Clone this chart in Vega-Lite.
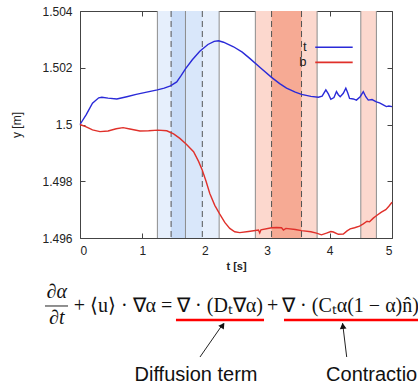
{
  "$schema": "https://vega.github.io/schema/vega-lite/v6.json",
  "width": 312,
  "height": 227,
  "autosize": {"type": "none"},
  "padding": {"left": 80, "top": 11, "right": 26, "bottom": 147},
  "background": "white",
  "config": {
    "view": {"stroke": "#444", "strokeWidth": 1},
    "font": "Liberation Sans",
    "axis": {
      "grid": false,
      "domain": false,
      "tickSize": -5,
      "tickColor": "#444",
      "labelFont": "Liberation Sans",
      "labelFontSize": 12,
      "labelColor": "#222",
      "titleFont": "Liberation Sans",
      "titleFontSize": 11,
      "titleColor": "#222"
    }
  },
  "datasets": {
    "bands": [
      {"band": "diffusion outer", "start": 1.24, "end": 2.23},
      {"band": "diffusion mid", "start": 1.46, "end": 1.96},
      {"band": "diffusion core", "start": 1.46, "end": 1.69},
      {"band": "contraction outer", "start": 2.81, "end": 3.80},
      {"band": "contraction core", "start": 3.07, "end": 3.55},
      {"band": "contraction late", "start": 4.50, "end": 4.75}
    ],
    "edges": [{"t": 1.24}, {"t": 1.69}, {"t": 2.23}, {"t": 2.81}, {"t": 3.80}, {"t": 4.50}, {"t": 4.75}],
    "phases": [{"t": 1.46}, {"t": 1.96}, {"t": 3.07}, {"t": 3.55}],
    "curves": [
      {"series": "t", "t": 0.00, "y": 1.50000},
      {"series": "t", "t": 0.10, "y": 1.50035},
      {"series": "t", "t": 0.20, "y": 1.50075},
      {"series": "t", "t": 0.30, "y": 1.50094},
      {"series": "t", "t": 0.35, "y": 1.50096},
      {"series": "t", "t": 0.45, "y": 1.50093},
      {"series": "t", "t": 0.59, "y": 1.50090},
      {"series": "t", "t": 0.75, "y": 1.50098},
      {"series": "t", "t": 0.90, "y": 1.50106},
      {"series": "t", "t": 1.05, "y": 1.50113},
      {"series": "t", "t": 1.24, "y": 1.50122},
      {"series": "t", "t": 1.35, "y": 1.50128},
      {"series": "t", "t": 1.45, "y": 1.50136},
      {"series": "t", "t": 1.55, "y": 1.50150},
      {"series": "t", "t": 1.62, "y": 1.50172},
      {"series": "t", "t": 1.69, "y": 1.50196},
      {"series": "t", "t": 1.80, "y": 1.50228},
      {"series": "t", "t": 1.92, "y": 1.50258},
      {"series": "t", "t": 2.05, "y": 1.50282},
      {"series": "t", "t": 2.15, "y": 1.50293},
      {"series": "t", "t": 2.22, "y": 1.50295},
      {"series": "t", "t": 2.30, "y": 1.50290},
      {"series": "t", "t": 2.46, "y": 1.50274},
      {"series": "t", "t": 2.60, "y": 1.50255},
      {"series": "t", "t": 2.72, "y": 1.50233},
      {"series": "t", "t": 2.90, "y": 1.50198},
      {"series": "t", "t": 3.07, "y": 1.50166},
      {"series": "t", "t": 3.20, "y": 1.50144},
      {"series": "t", "t": 3.31, "y": 1.50128},
      {"series": "t", "t": 3.45, "y": 1.50114},
      {"series": "t", "t": 3.55, "y": 1.50106},
      {"series": "t", "t": 3.70, "y": 1.50099},
      {"series": "t", "t": 3.82, "y": 1.50096},
      {"series": "t", "t": 3.88, "y": 1.50100},
      {"series": "t", "t": 3.94, "y": 1.50122},
      {"series": "t", "t": 3.98, "y": 1.50108},
      {"series": "t", "t": 4.02, "y": 1.50089},
      {"series": "t", "t": 4.07, "y": 1.50095},
      {"series": "t", "t": 4.11, "y": 1.50116},
      {"series": "t", "t": 4.14, "y": 1.50105},
      {"series": "t", "t": 4.17, "y": 1.50098},
      {"series": "t", "t": 4.22, "y": 1.50110},
      {"series": "t", "t": 4.26, "y": 1.50128},
      {"series": "t", "t": 4.29, "y": 1.50112},
      {"series": "t", "t": 4.32, "y": 1.50092},
      {"series": "t", "t": 4.38, "y": 1.50090},
      {"series": "t", "t": 4.43, "y": 1.50086},
      {"series": "t", "t": 4.49, "y": 1.50098},
      {"series": "t", "t": 4.54, "y": 1.50116},
      {"series": "t", "t": 4.58, "y": 1.50098},
      {"series": "t", "t": 4.62, "y": 1.50086},
      {"series": "t", "t": 4.68, "y": 1.50088},
      {"series": "t", "t": 4.75, "y": 1.50080},
      {"series": "t", "t": 4.80, "y": 1.50076},
      {"series": "t", "t": 4.86, "y": 1.50069},
      {"series": "t", "t": 4.91, "y": 1.50063},
      {"series": "t", "t": 4.95, "y": 1.50065},
      {"series": "t", "t": 5.00, "y": 1.50063},
      {"series": "b", "t": 0.00, "y": 1.50000},
      {"series": "b", "t": 0.10, "y": 1.49992},
      {"series": "b", "t": 0.20, "y": 1.49981},
      {"series": "b", "t": 0.32, "y": 1.49975},
      {"series": "b", "t": 0.45, "y": 1.49977},
      {"series": "b", "t": 0.58, "y": 1.49985},
      {"series": "b", "t": 0.69, "y": 1.49989},
      {"series": "b", "t": 0.80, "y": 1.49984},
      {"series": "b", "t": 0.96, "y": 1.49977},
      {"series": "b", "t": 1.10, "y": 1.49978},
      {"series": "b", "t": 1.25, "y": 1.49980},
      {"series": "b", "t": 1.39, "y": 1.49978},
      {"series": "b", "t": 1.50, "y": 1.49967},
      {"series": "b", "t": 1.60, "y": 1.49951},
      {"series": "b", "t": 1.70, "y": 1.49931},
      {"series": "b", "t": 1.82, "y": 1.49904},
      {"series": "b", "t": 1.90, "y": 1.49870},
      {"series": "b", "t": 1.96, "y": 1.49839},
      {"series": "b", "t": 2.02, "y": 1.49800},
      {"series": "b", "t": 2.08, "y": 1.49757},
      {"series": "b", "t": 2.16, "y": 1.49715},
      {"series": "b", "t": 2.24, "y": 1.49684},
      {"series": "b", "t": 2.32, "y": 1.49655},
      {"series": "b", "t": 2.40, "y": 1.49634},
      {"series": "b", "t": 2.48, "y": 1.49622},
      {"series": "b", "t": 2.56, "y": 1.49619},
      {"series": "b", "t": 2.70, "y": 1.49623},
      {"series": "b", "t": 2.86, "y": 1.49628},
      {"series": "b", "t": 2.88, "y": 1.49618},
      {"series": "b", "t": 2.90, "y": 1.49629},
      {"series": "b", "t": 3.07, "y": 1.49636},
      {"series": "b", "t": 3.15, "y": 1.49637},
      {"series": "b", "t": 3.23, "y": 1.49636},
      {"series": "b", "t": 3.26, "y": 1.49628},
      {"series": "b", "t": 3.30, "y": 1.49634},
      {"series": "b", "t": 3.45, "y": 1.49630},
      {"series": "b", "t": 3.55, "y": 1.49626},
      {"series": "b", "t": 3.70, "y": 1.49622},
      {"series": "b", "t": 3.79, "y": 1.49617},
      {"series": "b", "t": 3.87, "y": 1.49611},
      {"series": "b", "t": 3.95, "y": 1.49617},
      {"series": "b", "t": 4.02, "y": 1.49623},
      {"series": "b", "t": 4.06, "y": 1.49621},
      {"series": "b", "t": 4.14, "y": 1.49613},
      {"series": "b", "t": 4.22, "y": 1.49614},
      {"series": "b", "t": 4.28, "y": 1.49625},
      {"series": "b", "t": 4.33, "y": 1.49632},
      {"series": "b", "t": 4.40, "y": 1.49636},
      {"series": "b", "t": 4.48, "y": 1.49642},
      {"series": "b", "t": 4.54, "y": 1.49650},
      {"series": "b", "t": 4.60, "y": 1.49659},
      {"series": "b", "t": 4.64, "y": 1.49657},
      {"series": "b", "t": 4.70, "y": 1.49670},
      {"series": "b", "t": 4.76, "y": 1.49680},
      {"series": "b", "t": 4.83, "y": 1.49691},
      {"series": "b", "t": 4.90, "y": 1.49700},
      {"series": "b", "t": 4.95, "y": 1.49712},
      {"series": "b", "t": 5.00, "y": 1.49726}
    ],
    "legendEntries": [
      {"series": "t", "labelT": 3.63, "t": 3.77, "t2": 4.37, "y": 1.50272},
      {"series": "b", "labelT": 3.63, "t": 3.77, "t2": 4.37, "y": 1.50219}
    ],
    "underlines": [
      {"term": "diffusion", "t": 1.538, "t2": 2.949, "y": 1.49311},
      {"term": "contraction", "t": 3.269, "t2": 5.5, "y": 1.49311}
    ],
    "blackRules": [
      {"part": "fraction bar", "t": -0.561, "t2": -0.192, "y": 1.493604, "y2": 1.493604},
      {"part": "diffusion arrow", "t": 1.923, "t2": 2.30, "y": 1.491806, "y2": 1.49300},
      {"part": "contraction arrow", "t": 4.274, "t2": 4.208, "y": 1.491806, "y2": 1.49300}
    ],
    "heads": [
      {"part": "diffusion arrow", "t": 2.287, "y": 1.492923},
      {"part": "contraction arrow", "t": 4.212, "y": 1.492899}
    ],
    "fraction": [
      {"piece": "numerator", "t": -0.373, "y": 1.494080, "text": "∂α"},
      {"piece": "denominator", "t": -0.373, "y": 1.493170, "text": "∂t"}
    ],
    "equation": [
      {"piece": "lhs", "t": 0.689, "y": 1.493604, "text": "+ ⟨u⟩ · ∇α ="},
      {"piece": "diffusion", "t": 2.244, "y": 1.493604, "text": "∇ · (Dₜ∇α)"},
      {"piece": "plus", "t": 3.088, "y": 1.493604, "text": "+"},
      {"piece": "contraction", "t": 4.335, "y": 1.493604, "text": "∇ · (Cₜα(1 − α)n̂)"}
    ],
    "captions": [
      {"t": 1.859, "y": 1.491170, "text": "Diffusion term"},
      {"t": 5.128, "y": 1.491170, "text": "Contraction term"}
    ]
  },
  "layer": [
    {
      "data": {"name": "bands"},
      "mark": {"type": "rect"},
      "encoding": {
        "x": {"field": "start", "type": "quantitative", "scale": {"domain": [0, 5], "nice": false, "zero": false}, "axis": null},
        "x2": {"field": "end"},
        "fill": {
          "field": "band", "type": "nominal", "legend": null,
          "scale": {
            "domain": ["diffusion outer", "diffusion mid", "diffusion core", "contraction outer", "contraction core", "contraction late"],
            "range": ["#e6effc", "#d9e7fa", "#c9dcf7", "#fcd8ce", "#f6aa94", "#fcd8ce"]
          }
        }
      }
    },
    {
      "data": {"name": "edges"},
      "mark": {"type": "rule", "color": "#8c8c8c", "strokeWidth": 1},
      "encoding": {
        "x": {"field": "t", "type": "quantitative", "scale": {"domain": [0, 5], "nice": false, "zero": false}, "axis": null}
      }
    },
    {
      "data": {"name": "phases"},
      "mark": {"type": "rule", "color": "#555", "strokeWidth": 1, "strokeDash": [6, 4]},
      "encoding": {
        "x": {"field": "t", "type": "quantitative", "scale": {"domain": [0, 5], "nice": false, "zero": false}, "axis": null}
      }
    },
    {
      "data": {"name": "curves"},
      "mark": {"type": "line", "strokeWidth": 1.4},
      "encoding": {
        "x": {"field": "t", "type": "quantitative", "title": "t [s]",
              "scale": {"domain": [0, 5], "nice": false, "zero": false},
              "axis": {"orient": "bottom", "values": [0, 1, 2, 3, 4, 5], "labelPadding": 12, "titlePadding": 4, "titleFontWeight": "bold"}},
        "y": {"field": "y", "type": "quantitative", "title": "y [m]",
              "scale": {"domain": [1.496, 1.504], "nice": false, "zero": false},
              "axis": {"orient": "left", "values": [1.496, 1.498, 1.5, 1.502, 1.504], "format": "~g", "labelPadding": 13, "titlePadding": 18, "titleFontSize": 12, "titleFontWeight": "normal"}},
        "stroke": {"field": "series", "type": "nominal",
                   "scale": {"domain": ["t", "b"], "range": ["#2a2ad8", "#e0302a"]},
                   "legend": null},
        "order": {"field": "t", "type": "quantitative"}
      }
    },
    {
      "data": {"name": "curves"},
      "mark": {"type": "point", "opacity": 0},
      "encoding": {
        "x": {"field": "t", "type": "quantitative",
              "scale": {"domain": [0, 5], "nice": false, "zero": false},
              "axis": {"orient": "top", "values": [0, 1, 2, 3, 4, 5], "labels": false, "title": null}},
        "y": {"field": "y", "type": "quantitative",
              "scale": {"domain": [1.496, 1.504], "nice": false, "zero": false},
              "axis": {"orient": "right", "values": [1.496, 1.498, 1.5, 1.502, 1.504], "labels": false, "title": null}}
      }
    },
    {
      "data": {"name": "legendEntries"},
      "mark": {"type": "rule", "strokeWidth": 1.6},
      "encoding": {
        "x": {"field": "t", "type": "quantitative", "scale": {"domain": [0, 5], "nice": false, "zero": false}, "axis": null},
        "x2": {"field": "t2"},
        "y": {"field": "y", "type": "quantitative", "scale": {"domain": [1.496, 1.504], "nice": false, "zero": false}, "axis": null},
        "stroke": {"field": "series", "type": "nominal", "scale": {"domain": ["t", "b"], "range": ["#2a2ad8", "#e0302a"]}, "legend": null}
      }
    },
    {
      "data": {"name": "legendEntries"},
      "mark": {"type": "text", "font": "Liberation Sans", "fontSize": 13, "color": "#222", "align": "right", "baseline": "middle"},
      "encoding": {
        "x": {"field": "labelT", "type": "quantitative", "scale": {"domain": [0, 5], "nice": false, "zero": false}, "axis": null},
        "y": {"field": "y", "type": "quantitative", "scale": {"domain": [1.496, 1.504], "nice": false, "zero": false}, "axis": null},
        "text": {"field": "series"}
      }
    },
    {
      "data": {"name": "underlines"},
      "mark": {"type": "rule", "color": "#ff0000", "strokeWidth": 2.5},
      "encoding": {
        "x": {"field": "t", "type": "quantitative", "scale": {"domain": [0, 5], "nice": false, "zero": false}, "axis": null},
        "x2": {"field": "t2"},
        "y": {"field": "y", "type": "quantitative", "scale": {"domain": [1.496, 1.504], "nice": false, "zero": false}, "axis": null}
      }
    },
    {
      "data": {"name": "blackRules"},
      "mark": {"type": "rule", "color": "#222", "strokeWidth": 1},
      "encoding": {
        "x": {"field": "t", "type": "quantitative", "scale": {"domain": [0, 5], "nice": false, "zero": false}, "axis": null},
        "x2": {"field": "t2"},
        "y": {"field": "y", "type": "quantitative", "scale": {"domain": [1.496, 1.504], "nice": false, "zero": false}, "axis": null},
        "y2": {"field": "y2"}
      }
    },
    {
      "data": {"name": "heads"},
      "transform": [{"filter": "datum.part === 'diffusion arrow'"}],
      "mark": {"type": "point", "shape": "triangle-up", "filled": true, "color": "#111", "size": 45, "angle": 35, "opacity": 1},
      "encoding": {
        "x": {"field": "t", "type": "quantitative", "scale": {"domain": [0, 5], "nice": false, "zero": false}, "axis": null},
        "y": {"field": "y", "type": "quantitative", "scale": {"domain": [1.496, 1.504], "nice": false, "zero": false}, "axis": null}
      }
    },
    {
      "data": {"name": "heads"},
      "transform": [{"filter": "datum.part === 'contraction arrow'"}],
      "mark": {"type": "point", "shape": "triangle-up", "filled": true, "color": "#111", "size": 45, "angle": -7, "opacity": 1},
      "encoding": {
        "x": {"field": "t", "type": "quantitative", "scale": {"domain": [0, 5], "nice": false, "zero": false}, "axis": null},
        "y": {"field": "y", "type": "quantitative", "scale": {"domain": [1.496, 1.504], "nice": false, "zero": false}, "axis": null}
      }
    },
    {
      "data": {"name": "fraction"},
      "mark": {"type": "text", "font": "Liberation Serif", "fontSize": 20, "fontStyle": "italic", "color": "#111", "align": "center", "baseline": "middle"},
      "encoding": {
        "x": {"field": "t", "type": "quantitative", "scale": {"domain": [0, 5], "nice": false, "zero": false}, "axis": null},
        "y": {"field": "y", "type": "quantitative", "scale": {"domain": [1.496, 1.504], "nice": false, "zero": false}, "axis": null},
        "text": {"field": "text"}
      }
    },
    {
      "data": {"name": "equation"},
      "mark": {"type": "text", "font": "Liberation Serif", "fontSize": 20, "color": "#111", "align": "center", "baseline": "middle"},
      "encoding": {
        "x": {"field": "t", "type": "quantitative", "scale": {"domain": [0, 5], "nice": false, "zero": false}, "axis": null},
        "y": {"field": "y", "type": "quantitative", "scale": {"domain": [1.496, 1.504], "nice": false, "zero": false}, "axis": null},
        "text": {"field": "text"}
      }
    },
    {
      "data": {"name": "captions"},
      "mark": {"type": "text", "font": "Liberation Sans", "fontSize": 20, "color": "#111", "align": "center", "baseline": "middle"},
      "encoding": {
        "x": {"field": "t", "type": "quantitative", "scale": {"domain": [0, 5], "nice": false, "zero": false}, "axis": null},
        "y": {"field": "y", "type": "quantitative", "scale": {"domain": [1.496, 1.504], "nice": false, "zero": false}, "axis": null},
        "text": {"field": "text"}
      }
    }
  ],
  "resolve": {"axis": {"x": "independent", "y": "independent"}}
}
